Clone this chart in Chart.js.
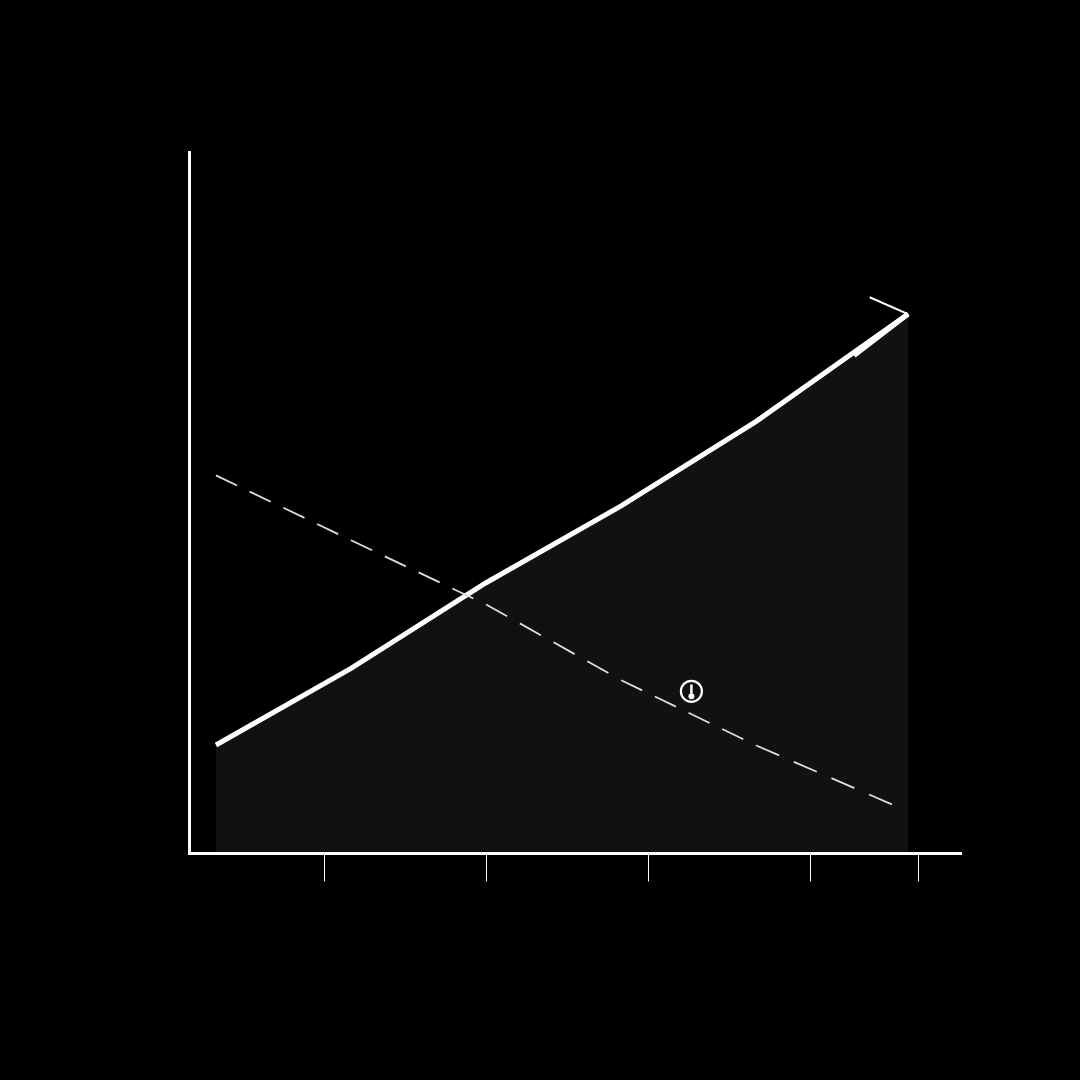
<!DOCTYPE html>
<html>
<head>
<meta charset="utf-8">
<title>Chart</title>
<script src="https://cdn.jsdelivr.net/npm/chart.js@4"></script>
<style>
html, body { margin: 0; padding: 0; background: #000; }
canvas { display: block; }
</style>
</head>
<body>
<canvas id="chart" width="1080" height="1080"></canvas>
<script>
// values
var xTicks = [25, 55, 85, 115, 135];
var solidX = [4.9, 29.9, 54.9, 79.9, 104.9, 133];
var solidY = [15.47, 26.4, 38.6, 49.54, 61.6, 76.9];
var dashX = [4.9, 29.9, 54.9, 79.9, 104.9, 130];
var dashY = [53.9, 44.65, 35.5, 24.7, 15.4, 7];
var upperBarbX = [125.9, 133];
var upperBarbY = [79.3, 76.9];
var lowerBarbX = [123, 133];
var lowerBarbY = [71, 76.9];
var markerX = [92.9];
var markerY = [23.12];
var markerBarY = [23.45];
var markerDotY = [22.4];

// the dash restarts at every vertex of the dashed line, with its own length per segment
var dashPatterns = [[23.4, 14], [23.3, 14.1], [24.1, 14.6], [23.4, 14], [25, 16]];

function toPoints(xs, ys) {
	return xs.map(function(x, i) { return { x: x, y: ys[i] }; });
}

var ctx = document.getElementById("chart").getContext("2d");
new Chart(ctx, {
	type: 'line',
	data: {
		datasets: [
			// main line with the shaded area under it
			{
				data: toPoints(solidX, solidY),
				borderColor: '#ffffff',
				borderWidth: 5,
				backgroundColor: '#111111',
				fill: 'origin',
				pointRadius: 0,
				order: 3
			},
			// dashed line
			{
				data: toPoints(dashX, dashY),
				borderColor: '#dddddd',
				borderWidth: 1.8,
				segment: {
					borderDash: function(c) { return dashPatterns[c.p0DataIndex]; }
				},
				pointRadius: 0,
				order: 2
			},
			// arrow head at the end of the main line
			{
				data: toPoints(upperBarbX, upperBarbY),
				borderColor: '#ffffff',
				borderWidth: 2,
				pointRadius: 0,
				order: 1
			},
			{
				data: toPoints(lowerBarbX, lowerBarbY),
				borderColor: '#ffffff',
				borderWidth: 5,
				pointRadius: 0,
				order: 1
			},
			// warning marker: ring, bar and dot
			{
				data: toPoints(markerX, markerY),
				showLine: false,
				pointStyle: 'circle',
				pointRadius: 10.5,
				pointBorderWidth: 2.2,
				pointBorderColor: '#ffffff',
				pointBackgroundColor: 'rgba(0,0,0,0)',
				order: 0
			},
			{
				data: toPoints(markerX, markerBarY),
				showLine: false,
				pointStyle: 'line',
				pointRotation: 90,
				pointRadius: 4.5,
				pointBorderWidth: 2.5,
				pointBorderColor: '#ffffff',
				order: 0
			},
			{
				data: toPoints(markerX, markerDotY),
				showLine: false,
				pointStyle: 'circle',
				pointRadius: 3,
				pointBorderWidth: 0,
				pointBackgroundColor: '#ffffff',
				order: 0
			}
		]
	},
	options: {
		responsive: false,
		devicePixelRatio: 1,
		animation: false,
		elements: { line: { tension: 0 } },
		layout: { padding: { top: 152, right: 119, left: 0, bottom: 0 } },
		plugins: {
			legend: { display: false },
			tooltip: { enabled: false }
		},
		scales: {
			x: {
				type: 'linear',
				min: 0,
				max: 142.8,
				afterBuildTicks: function(axis) {
					axis.ticks = xTicks.map(function(v) { return { value: v }; });
				},
				afterFit: function(axis) { axis.height = 226.5; },
				ticks: { display: false },
				grid: {
					drawOnChartArea: false,
					drawTicks: true,
					tickLength: 28,
					tickWidth: 1,
					tickColor: '#ffffff'
				},
				border: { display: true, color: '#ffffff', width: 3, z: 1 }
			},
			y: {
				type: 'linear',
				min: 0,
				max: 100,
				afterFit: function(axis) { axis.width = 189.5; },
				ticks: { display: false },
				grid: { display: false },
				border: { display: true, color: '#ffffff', width: 3, z: 1 }
			}
		}
	}
});
</script>
</body>
</html>
